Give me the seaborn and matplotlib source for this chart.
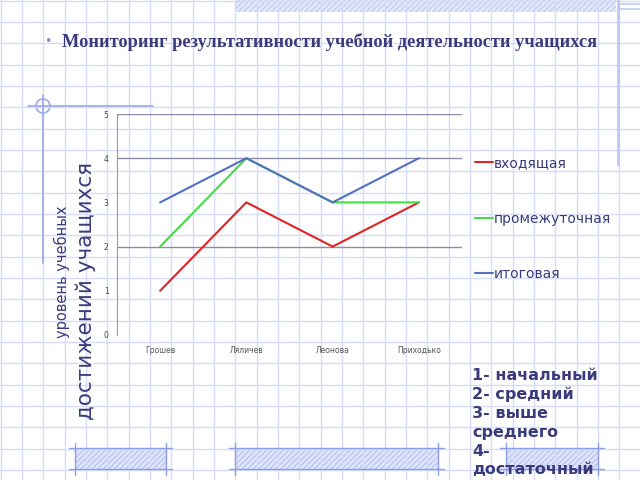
import numpy as np
import pandas as pd
import matplotlib
matplotlib.use("Agg")
import matplotlib.pyplot as plt
from matplotlib.patches import Rectangle, Circle
import seaborn as sns

### Данные
ученики = ["Грошев", "Ляличев", "Леонова", "Приходько"]
входящая = [1, 3, 2, 3]
промежуточная = [2, 4, 3, 3]
итоговая = [3, 4, 3, 4]
серии = ["входящая", "промежуточная", "итоговая"]
цвета = ["#e02424", "#44dd44", "#5470c4"]
уровни = ["1- начальный", "2- средний", "3- выше", "среднего", "4-", "достаточный"]
заголовок = "Мониторинг результативности учебной деятельности учащихся"

dados = pd.DataFrame({
    "ученик": ученики * 3,
    "уровень": входящая + промежуточная + итоговая,
    "серия": [s for s in серии for _ in ученики],
})

sns.set_style("white")
plt.rcParams["font.family"] = ["DejaVu Sans"]

fig = plt.figure(figsize=(6.4, 4.8), dpi=100)

### Фон: тетрадная клетка
bg = fig.add_axes([0, 0, 1, 1], zorder=0)
bg.set_xlim(0, 640)
bg.set_ylim(480, 0)
bg.axis("off")
клетка = "#d6ddf8"
for x in np.arange(0.5, 640, 640 / 30):
    bg.axvline(x, color=клетка, lw=1)
for y in np.arange(0.5, 480, 640 / 30):
    bg.axhline(y, color=клетка, lw=1)

# полоса сверху справа
bg.add_patch(Rectangle((235, 0), 381, 12, facecolor="#e4e9fb", edgecolor="#c4cdf2",
                       hatch="//////", lw=0))
bg.plot([618, 618], [0, 165], color="#c0c9f2", lw=2)
bg.plot([618, 640], [4, 4], color="#c0c9f2", lw=1.2)
bg.plot([618, 640], [9, 9], color="#c0c9f2", lw=1.2)

# крестик с кругом слева
деко = "#9aa8e6"
bg.plot([28, 153], [106, 106], color=деко, lw=1.2)
bg.plot([43, 43], [95, 263], color=деко, lw=1.2)
bg.add_patch(Circle((43, 106), 7, fill=False, edgecolor=деко, lw=1.2))

# заштрихованные прямоугольники снизу
for x0, x1 in [(75, 166), (235, 438), (506, 598)]:
    bg.add_patch(Rectangle((x0, 448), x1 - x0, 21, facecolor="#e0e6fb", edgecolor="#b9c5f0",
                           hatch="//////", lw=0))
    bg.plot([x0 - 6, x1 + 6], [448, 448], color="#8d9de6", lw=1)
    bg.plot([x0 - 6, x1 + 6], [469, 469], color="#8d9de6", lw=1)
    bg.plot([x0, x0], [443, 475], color="#8d9de6", lw=1)
    bg.plot([x1, x1], [443, 475], color="#8d9de6", lw=1)

### Заголовок
тёмный = "#3a3a7c"
bg.text(48, 42, "•", color="#8a94c8", fontsize=9, va="center", ha="center")
bg.text(62, 42, заголовок, color=тёмный, fontsize=13.2, fontweight="bold",
        family=["Liberation Serif", "DejaVu Serif"], va="center", ha="left")

### Подписи оси Y
bg.text(62, 272, "уровень учебных", rotation=90, color=тёмный, fontsize=10.5,
        va="center", ha="center")
bg.text(86, 291, "достижений учащихся", rotation=90, color=тёмный, fontsize=15.5,
        va="center", ha="center")

### Уровни
for i, s in enumerate(уровни):
    bg.text(472, 375 + 19 * i, s, color=тёмный, fontsize=11.5, fontweight="bold",
            va="center", ha="left")

### График
ax = fig.add_axes([117 / 640, 1 - 335 / 480, 345 / 640, 221 / 480], zorder=2)
ax.patch.set_alpha(0)
sns.lineplot(data=dados, x="ученик", y="уровень", hue="серия", hue_order=серии,
             palette=цвета, linewidth=1.5, ax=ax, sort=False)
ax.set_xlim(-0.5, 3.5)
ax.set_ylim(0, 5)
ax.set_yticks(range(0, 6))
ax.set_xticks(range(len(ученики)))
ax.set_xticklabels(ученики)
ax.set_xticks(np.arange(0.5, 4, 1), minor=True)
ax.tick_params(axis="x", which="major", length=0, labelsize=5.5, labelcolor="#555555", pad=8)
ax.tick_params(axis="x", which="minor", length=3, direction="in", color="#999999")
ax.tick_params(axis="y", length=4, direction="out", color="#888888", labelsize=5.5,
               labelcolor="#444444", pad=2)
for y in [2, 4, 5]:
    ax.axhline(y, color="#8c8ca8", lw=1, zorder=0)
for s in ["top", "right", "bottom"]:
    ax.spines[s].set_visible(False)
ax.spines["left"].set_color("#999999")
ax.set_xlabel("")
ax.set_ylabel("")

handles, labels = ax.get_legend_handles_labels()
ax.legend(handles, labels, loc="upper left", bbox_to_anchor=(475 / 640, 1 - 156 / 480),
          bbox_transform=fig.transFigure, frameon=False, fontsize=10, labelspacing=3.0,
          handlelength=1.3, handletextpad=0.05, borderpad=0, borderaxespad=0,
          labelcolor=тёмный)

fig.savefig("out.png", dpi=100)
